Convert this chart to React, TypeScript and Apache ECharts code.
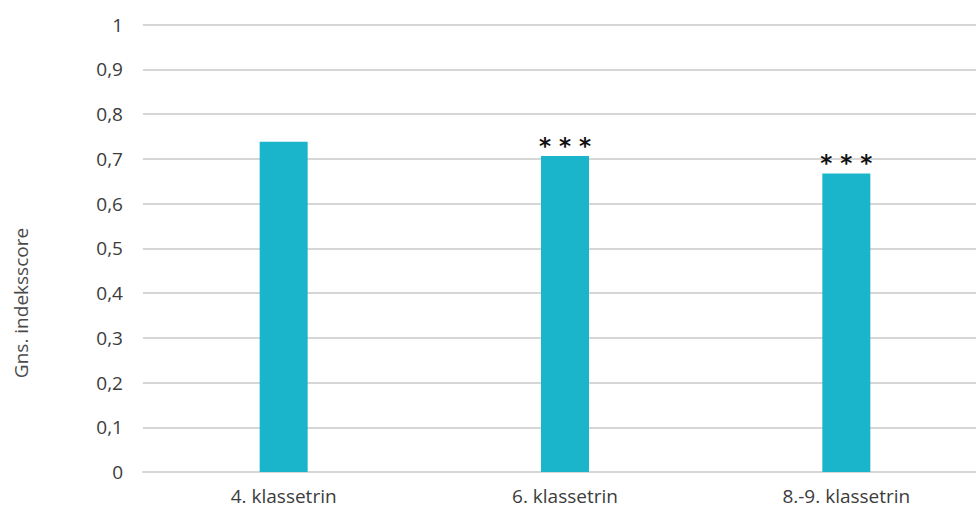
import React, { useEffect, useRef } from "react";
import * as echarts from "echarts";

const categories = ["4. klassetrin", "6. klassetrin", "8.-9. klassetrin"];
const values = [0.738, 0.706, 0.667];
const significance = ["", "* * *", "* * *"];
const yTicks = [0, 0.1, 0.2, 0.3, 0.4, 0.5, 0.6, 0.7, 0.8, 0.9, 1];
const yTitle = "Gns. indeksscore";

export default function App() {
  const ref = useRef<HTMLDivElement>(null);
  useEffect(() => {
    if (!ref.current) return;
    const chart = echarts.init(ref.current, undefined, { renderer: "svg" });
    chart.setOption({
      animation: false,
      grid: { left: 143, right: 1, top: 24.5, bottom: 38, containLabel: false },
      xAxis: {
        type: "category",
        data: categories,
        axisLine: { show: true, lineStyle: { color: "#d6d6d6", width: 2 } },
        axisTick: { show: false },
        axisLabel: { color: "#3c3c3c", fontSize: 19, fontFamily: "Open Sans", margin: 14 },
      },
      yAxis: {
        type: "value",
        min: yTicks[0],
        max: yTicks[yTicks.length - 1],
        interval: 0.1,
        axisLine: { show: false },
        axisTick: { show: false },
        splitLine: { lineStyle: { color: "#d6d6d6", width: 2 } },
        axisLabel: {
          color: "#3c3c3c",
          fontSize: 19,
          fontFamily: "Open Sans",
          margin: 20,
          formatter: (v: number) => String(Math.round(v * 10) / 10).replace(".", ","),
        },
      },
      graphic: [
        {
          type: "text",
          x: 21,
          y: 303,
          rotation: Math.PI / 2,
          style: {
            text: yTitle,
            fill: "#4a4a4a",
            font: "19px 'Open Sans'",
            align: "center",
            verticalAlign: "middle",
          },
        },
      ],
      series: [
        {
          type: "bar",
          data: values.map((v, i) => ({
            value: v,
            label: {
              show: significance[i] !== "",
              formatter: significance[i],
            },
          })),
          barWidth: 48,
          itemStyle: { color: "#1bb5cb" },
          label: {
            position: "top",
            distance: -1,
            color: "#111",
            fontSize: 23,
            fontWeight: "bold",
            fontFamily: "DejaVu Sans",
          },
        },
      ],
    });
    return () => chart.dispose();
  }, []);
  return (
    <div style={{ position: "fixed", left: 0, top: 0, width: 976, height: 510, overflow: "hidden", background: "#fff" }}>
      <div ref={ref} style={{ width: 988, height: 510 }} />
    </div>
  );
}
